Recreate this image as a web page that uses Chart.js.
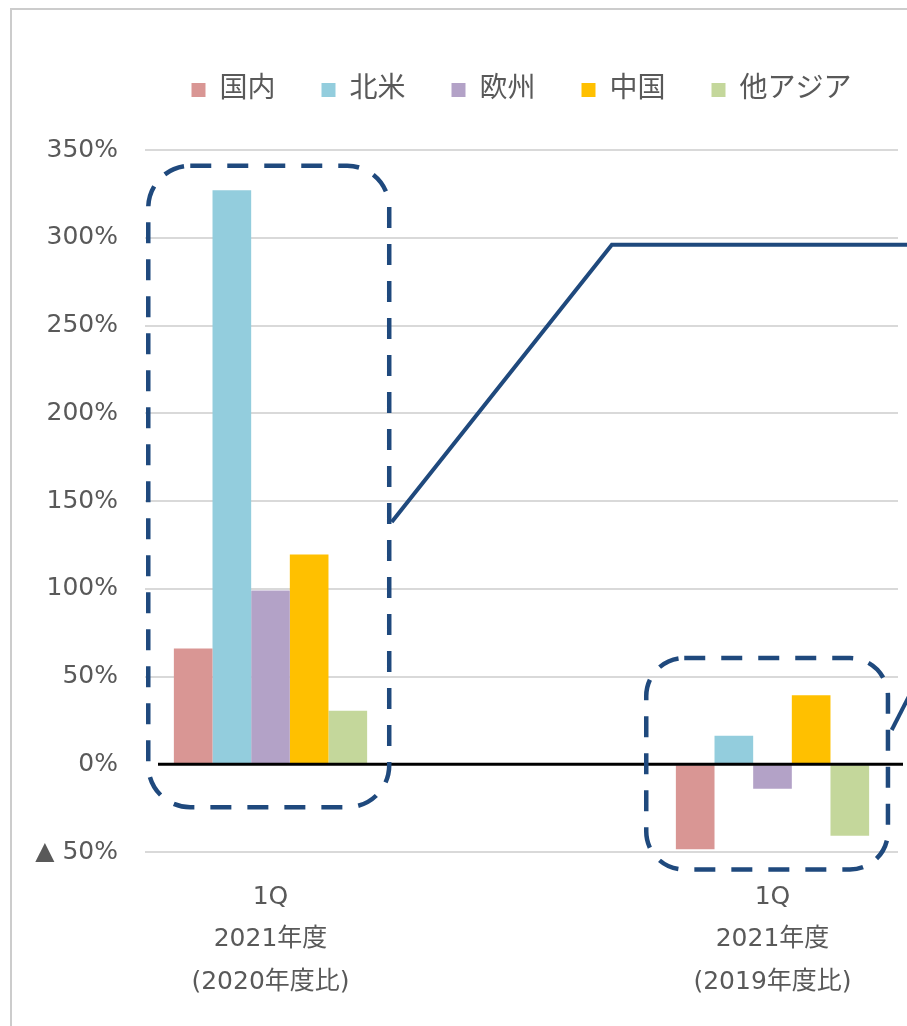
<!DOCTYPE html>
<html lang="ja">
<head>
<meta charset="utf-8">
<title>地域別 前年度比</title>
<script src="https://cdn.jsdelivr.net/npm/chart.js@4.4.1/dist/chart.umd.min.js"></script>
<style>
  html, body { margin: 0; padding: 0; background: #fff; }
  #wrap { position: relative; width: 907px; height: 1026px; }
  #frame {
    position: absolute; left: 10px; top: 8px; right: 0; bottom: 0;
    border-top: 2px solid #cccccc; border-left: 2px solid #cccccc;
    pointer-events: none;
  }
</style>
</head>
<body>
<div id="wrap">
  <canvas id="regionChart"></canvas>
  <div id="frame"></div>
</div>
<script>
// カテゴリ（中央は空きスロット）
const categories = [['1Q', '2021年度', '(2020年度比)'], '', ['1Q', '2021年度', '(2019年度比)']];
const regions = ['国内', '北米', '欧州', '中国', '他アジア'];

// 増減率（%）
const domestic = [66, null, -48.4];
const northAmerica = [327, null, 16.3];
const europe = [99, null, -14];
const china = [119.5, null, 39.3];
const otherAsia = [30.5, null, -40.8];

// Y軸目盛
const yMin = -50;
const yMax = 350;
const yStep = 50;

const seriesValues = [domestic, northAmerica, europe, china, otherAsia];
const seriesColors = ['#D99694', '#93CDDD', '#B3A2C7', '#FFC000', '#C4D79B'];

const textColor = '#595959';
const navy = '#1F497D';
const fontFamily = "'DejaVu Sans', 'Noto Sans CJK JP', sans-serif";

/** 注記：ゼロ線・点線の角丸枠・引き出し線 */
const annotationPlugin = {
  id: 'annotationPlugin',
  afterDatasetsDraw(chart) {
    const { ctx, chartArea, scales: { x, y } } = chart;
    const step = x.getPixelForValue(1) - x.getPixelForValue(0);
    const px = (pos) => x.getPixelForValue(0) + pos * step;

    ctx.save();

    // 0% の軸線
    ctx.strokeStyle = '#000';
    ctx.lineWidth = 3;
    ctx.beginPath();
    ctx.moveTo(chartArea.left + 13, y.getPixelForValue(0));
    ctx.lineTo(chartArea.right + 5, y.getPixelForValue(0));
    ctx.stroke();

    // 点線の角丸枠
    const frames = [
      { from: -0.487, to: 0.473, top: 341, bottom: -24.5, r: 42 },
      { from: 1.497, to: 2.46, top: 60.5, bottom: -60, r: 38 },
    ];
    ctx.strokeStyle = navy;
    ctx.lineWidth = 4.5;
    ctx.setLineDash([21, 16]);
    frames.forEach((f) => {
      const left = px(f.from);
      const right = px(f.to);
      const top = y.getPixelForValue(f.top);
      const bottom = y.getPixelForValue(f.bottom);
      ctx.beginPath();
      ctx.roundRect(left, top, right - left, bottom - top, f.r);
      ctx.stroke();
    });

    // 引き出し線
    ctx.setLineDash([]);
    ctx.lineWidth = 4;
    ctx.lineJoin = 'miter';
    ctx.beginPath();
    ctx.moveTo(px(0.483), y.getPixelForValue(138));
    ctx.lineTo(px(1.36), y.getPixelForValue(296));
    ctx.lineTo(px(3.2), y.getPixelForValue(296));
    ctx.stroke();

    ctx.beginPath();
    ctx.moveTo(px(2.475), y.getPixelForValue(19.5));
    ctx.lineTo(px(2.62), y.getPixelForValue(60));
    ctx.stroke();

    ctx.restore();
  },
};

new Chart(document.getElementById('regionChart'), {
  type: 'bar',
  data: {
    labels: categories,
    datasets: regions.map((name, i) => ({
      label: name,
      data: seriesValues[i],
      backgroundColor: seriesColors[i],
      borderWidth: 0,
      categoryPercentage: 0.77,
      barPercentage: 1.0,
    })),
  },
  options: {
    responsive: true,
    maintainAspectRatio: false,
    animation: false,
    layout: { padding: { top: 30, right: 9, bottom: 0, left: 0 } },
    plugins: {
      tooltip: { enabled: false },
      legend: {
        position: 'top',
        fullSize: false,
        labels: {
          boxWidth: 14,
          boxHeight: 14,
          padding: 46,
          color: textColor,
          font: { size: 28, family: fontFamily },
        },
      },
      // 凡例とプロット領域の間の余白（空のサブタイトル）
      subtitle: {
        display: true,
        text: ' ',
        weight: 500,
        font: { size: 1, lineHeight: 1 },
        padding: { top: 0, bottom: 35 },
      },
    },
    scales: {
      x: {
        grid: { display: false, drawTicks: false },
        border: { display: false },
        ticks: {
          color: textColor,
          padding: 24,
          maxRotation: 0,
          autoSkip: false,
          font: { size: 25, family: fontFamily, lineHeight: 1.7 },
        },
        afterFit: (scale) => { scale.height = 174; },
      },
      y: {
        min: yMin,
        max: yMax,
        grid: {
          drawTicks: false,
          lineWidth: 2,
          color: (c) => (c.tick && c.tick.value === 0 ? 'rgba(0,0,0,0)' : '#D9D9D9'),
        },
        border: { display: false },
        ticks: {
          stepSize: yStep,
          padding: 27,
          color: textColor,
          font: { size: 25, family: fontFamily },
          callback: (v) => (v < 0 ? '▲ ' + Math.abs(v) + '%' : v + '%'),
        },
        afterFit: (scale) => { scale.width = 145; },
      },
    },
  },
  plugins: [annotationPlugin],
});
</script>
</body>
</html>
